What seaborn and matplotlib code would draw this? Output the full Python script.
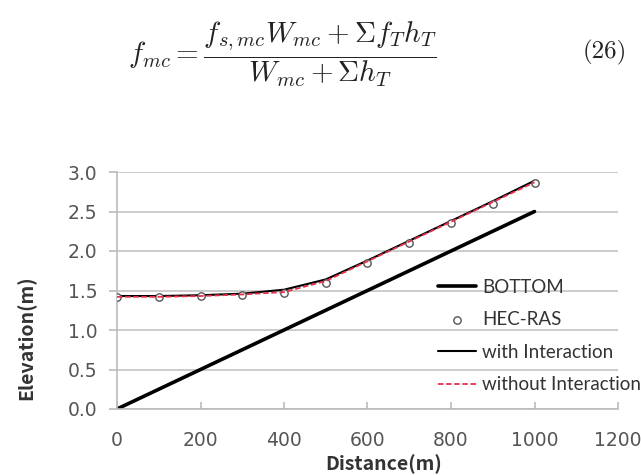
import numpy as np
import matplotlib
matplotlib.use('Agg')
import matplotlib.pyplot as plt
import seaborn as sns
import pandas as pd

# values
distance = [0, 100, 200, 300, 400, 500, 600, 700, 800, 900, 1000]
bottom = [0.0, 0.25, 0.5, 0.75, 1.0, 1.25, 1.5, 1.75, 2.0, 2.25, 2.5]
hec_ras = [1.42, 1.42, 1.43, 1.44, 1.47, 1.60, 1.85, 2.10, 2.35, 2.60, 2.86]
with_inter = [1.43, 1.43, 1.44, 1.46, 1.51, 1.64, 1.88, 2.13, 2.38, 2.63, 2.89]
without_inter = [1.42, 1.42, 1.43, 1.45, 1.48, 1.62, 1.87, 2.12, 2.37, 2.62, 2.87]

x_ticks = [0, 200, 400, 600, 800, 1000, 1200]
y_ticks = [0.0, 0.5, 1.0, 1.5, 2.0, 2.5, 3.0]

df = pd.DataFrame({
    'Distance': distance,
    'BOTTOM': bottom,
    'HEC-RAS': hec_ras,
    'with Interaction': with_inter,
    'without Interaction': without_inter,
})

sns.set_style('whitegrid')
plt.rcParams['font.family'] = ['DejaVu Sans']
plt.rcParams['mathtext.fontset'] = 'cm'

fig = plt.figure(figsize=(6.41, 4.75), dpi=100)
ax = fig.add_axes([117 / 641, 1 - 409 / 475, 501 / 641, 237 / 475])

# equation above the chart
fig.text(128 / 641, 1 - 54 / 475,
         r'$f_{mc}=\dfrac{f_{s,mc}W_{mc}+\Sigma f_T h_T}{W_{mc}+\Sigma h_T}$',
         fontsize=21, ha='left', va='center', color='#222222')
fig.text(583 / 641, 1 - 52 / 475, '(26)', fontsize=18,
         family=['cmr10', 'DejaVu Serif'], ha='left', va='center',
         color='#222222')

sns.lineplot(data=df, x='Distance', y='BOTTOM', ax=ax, color='black',
             linewidth=2.6, label='BOTTOM')
sns.scatterplot(data=df, x='Distance', y='HEC-RAS', ax=ax, marker='o',
                s=28, facecolor='white', edgecolor='#555555', linewidth=1.0,
                label='HEC-RAS', zorder=3)
sns.lineplot(data=df, x='Distance', y='with Interaction', ax=ax, color='black',
             linewidth=1.5, label='with Interaction')
sns.lineplot(data=df, x='Distance', y='without Interaction', ax=ax,
             color='#e8304a', linewidth=1.3, linestyle=(0, (3, 1.5)),
             label='without Interaction', zorder=4)

ax.set_xlim(0, 1200)
ax.set_ylim(0, 3.0)
ax.set_xticks(x_ticks)
ax.set_yticks(y_ticks)
ax.set_yticklabels([f'{v:.1f}' for v in y_ticks])
ax.grid(axis='x', visible=False)
ax.grid(axis='y', color='#cccccc', linewidth=1.4)

for side in ['top', 'right']:
    ax.spines[side].set_visible(False)
for side in ['left', 'bottom']:
    ax.spines[side].set_color('#bbbbbb')
    ax.spines[side].set_linewidth(1.2)

ax.tick_params(axis='y', direction='out', length=6, width=1.2, color='#bbbbbb',
               labelsize=13.5, labelcolor='#555555', pad=8, left=True)
ax.tick_params(axis='x', direction='in', length=5, width=1.2, color='#bbbbbb',
               labelsize=13.5, labelcolor='#555555', pad=16, bottom=True)

ax.set_xlabel('Distance(m)', fontsize=14, color='#333333',
              family=['Noto Sans CJK KR', 'DejaVu Sans'], fontweight='bold')
ax.set_ylabel('Elevation(m)', fontsize=14, color='#333333',
              family=['Noto Sans CJK KR', 'DejaVu Sans'], fontweight='bold')
ax.xaxis.set_label_coords(0.533, -0.19)
ax.yaxis.set_label_coords(-0.16, 0.30)

leg = ax.legend(loc='upper left', bbox_to_anchor=(438 / 641, 1 - 279 / 475),
                bbox_transform=fig.transFigure, frameon=False, borderpad=0,
                borderaxespad=0, handlelength=2.0, handletextpad=0.35,
                labelspacing=0.82, prop={'family': 'Lato', 'size': 13.5})
for t in leg.get_texts():
    t.set_color('#333333')

fig.savefig('out.png', dpi=100)
